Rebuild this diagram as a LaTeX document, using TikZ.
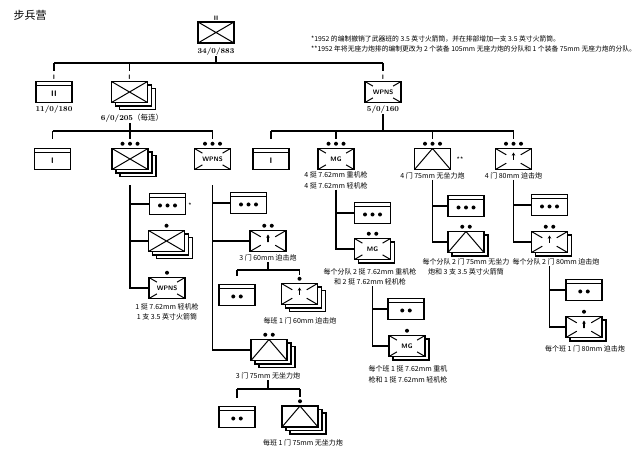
\documentclass[tikz,border=0pt]{standalone}
\usepackage{fontspec}
\newfontfamily\cjk{Noto Sans CJK SC}
\usetikzlibrary{calc,shadows,arrows.meta}

\newcommand\boxfont{\sffamily\bfseries\fontsize{6.5}{7}\selectfont}
\newcommand\barfont{\sffamily\bfseries\fontsize{8}{8}\selectfont}
\newcommand\unitdots[1]{\tikz[baseline=0pt]\foreach \i in {1,...,#1}
  \fill (\i*7.5pt,2pt) circle (2pt);}
\newcommand\dI{\unitdots{1}}
\newcommand\dII{\unitdots{2}}
\newcommand\dIII{\unitdots{3}}
\newcommand\inbox[2]{\raisebox{#1}[0pt][0pt]{#2}}
\newcommand\cornerticks[1]{%
  \foreach \a/\b in {north west/south east,north east/south west,
                     south west/north east,south east/north west}
    \draw[sym] (path picture bounding box.\a) --
      ($(path picture bounding box.\a)!#1!(path picture bounding box.\b)$);}

\tikzset{
  unit/.style={draw, fill=white, line width=1.5pt, minimum width=36pt,
               minimum height=21pt, inner sep=0pt, font=\boxfont},
  sym/.style={line width=1pt},
  link/.style={line width=1.4pt},
  inf/.style={unit, path picture={
      \draw[sym] (path picture bounding box.south west) -- (path picture bounding box.north east)
                 (path picture bounding box.north west) -- (path picture bounding box.south east);}},
  wpns/.style={unit, path picture={\cornerticks{0.22}}},
  mortar/.style={unit, path picture={\cornerticks{0.3}
      \draw[line width=1.3pt, -{Stealth[length=3.2pt,width=3.6pt]}]
         ([yshift=-3pt]path picture bounding box.center)
         -- ([yshift=6.5pt]path picture bounding box.center);
      \fill ([yshift=-3.5pt]path picture bounding box.center) circle (2.5pt);}},
  rr/.style={unit, path picture={
      \draw[sym] (path picture bounding box.south west) -- (path picture bounding box.north)
                 -- (path picture bounding box.south east);}},
  hq/.style={unit, path picture={
      \draw[sym] ([yshift=-4pt]path picture bounding box.north west)
                 -- ([yshift=-4pt]path picture bounding box.north east);}},
  stack2/.style={copy shadow={shadow xshift=4pt, shadow yshift=-3.5pt,
                 draw=black, fill=white, line width=1.1pt}},
  stack3/.style={copy shadow={shadow xshift=8pt, shadow yshift=-7pt,
                 draw=black, fill=white, line width=1.1pt}, stack2},
  size/.style={inner sep=1.8pt},
  echelon/.style={inner sep=0.8pt, font=\sffamily\bfseries\fontsize{6.5}{6.5}\selectfont},
  txt/.style={font=\cjk\fontsize{7}{10.5}\selectfont, inner sep=0.5pt, align=center},
  num/.style={font=\bfseries\fontsize{7.5}{8}\selectfont, inner sep=0.5pt},
  note/.style={font=\cjk\fontsize{6.8}{10}\selectfont, inner sep=0pt, align=left},
}

\begin{document}
\begin{tikzpicture}[x=1pt, y=-1pt]
  \useasboundingbox[fill=white] (0,0) rectangle (640,454);

  % title and notes
  \node[font=\cjk\fontsize{11}{12}\selectfont, inner sep=0pt] (title) at (30,15) {步兵营};
  \node[note, anchor=north west] (notes) at (311,35.5)
    {*1952 的编制撤销了武器班的 3.5 英寸火箭筒，并在排部增加一支 3.5 英寸火箭筒。\\
     **1952 年将无座力炮排的编制更改为 2 个装备 105mm 无座力炮的分队和 1 个装备 75mm 无座力炮的分队。};

  % battalion
  \node[inf, label={[echelon]above:II}] (bn) at (216,32.5) {};
  \node[num] (bn-t) at (216,52) {34/0/883};

  % companies
  \node[hq, label={[echelon]above:I}] (hqco) at (54,92) {\inbox{-4.8pt}{\barfont II}};
  \node[num] (hqco-t) at (54,110) {11/0/180};
  \node[inf, stack3, label={[echelon]above:I}] (rifleco) at (129.5,92) {};
  \node[num] (rifleco-t) at (132,118) {6/0/205{\cjk\mdseries（每连）}};
  \node[wpns, label={[echelon]above:I}] (wpnsco) at (383,92) {WPNS};
  \node[num] (wpnsco-t) at (383,110) {5/0/160};

  \coordinate (bus1) at (216,63);
  \draw[link] (bn-t) -- (bus1);
  \draw[link] (hqco.north |- bus1) -- (wpnsco.north |- bus1);
  \foreach \u in {hqco, rifleco, wpnsco}
    \draw[link] (\u.north |- bus1) -- ([yshift=10pt]\u.north);

  % platoons
  \node[hq] (cohq1) at (52.5,159) {\inbox{-4.8pt}{\barfont I}};
  \node[inf, stack3, label={[size]above:\dIII}] (rifleplt) at (130,159) {};
  \node[wpns, label={[size]above:\dIII}] (wpnsplt) at (212.5,159) {WPNS};
  \node[hq] (cohq2) at (271,159) {\inbox{-4.8pt}{\barfont I}};
  \node[wpns, label={[size]above:\dIII}] (mgplt) at (336,159) {MG};
  \node[rr, label={[size]above:\dIII}] (rrplt) at (432.5,159) {};
  \node[txt] (rrplt-n) at (460,160) {**};
  \node[mortar, label={[size]above:\dIII}] (mtrplt) at (513.5,159) {};
  \node[txt] (mgplt-t) at (336,180.5) {4 挺 7.62mm 重机枪\\4 挺 7.62mm 轻机枪};
  \node[txt] (rrplt-t) at (432.5,176) {4 门 75mm 无坐力炮};
  \node[txt] (mtrplt-t) at (513.5,176) {4 门 80mm 迫击炮};

  \coordinate (bus2) at (130,131);
  \draw[link] (rifleco-t.south -| bus2) -- (bus2);
  \draw[link] (cohq1.north |- bus2) -- (wpnsplt.north |- bus2);
  \foreach \u in {cohq1, rifleplt, wpnsplt}
    \draw[link] (\u.north |- bus2) -- ([yshift=9pt]\u.north);
  \coordinate (bus3) at (383,131);
  \draw[link] (wpnsco-t) -- (bus3);
  \draw[link] (cohq2.north |- bus3) -- (mtrplt.north |- bus3);
  \foreach \u in {cohq2, mgplt, rrplt, mtrplt}
    \draw[link] (\u.north |- bus3) -- ([yshift=9pt]\u.north);

  % rifle platoon
  \node[hq] (rplthq) at (167.5,204) {\inbox{-3.5pt}{\dIII}};
  \node[txt] (rplthq-n) at (190,206) {*};
  \node[inf, stack3, label={[size]above:\dI}] (riflesq) at (166.5,241) {};
  \node[wpns, label={[size]above:\dI}] (wpnssq) at (167,288) {WPNS};
  \node[txt] (wpnssq-t) at (167,312) {1 挺 7.62mm 轻机枪\\1 支 3.5 英寸火箭筒};
  \draw[link] ([yshift=-15pt]rifleplt.south) |- (wpnssq);
  \foreach \u in {rplthq, riflesq}
    \draw[link] (rifleplt.south |- \u) -- (\u);

  % weapons platoon
  \node[hq] (wplthq) at (248.5,203) {\inbox{-3.5pt}{\dIII}};
  \node[mortar, label={[size]above:\dII}] (mtrsec) at (268,241) {};
  \node[txt] (mtrsec-t) at (268,258) {3 门 60mm 迫击炮};
  \node[hq] (mtrsechq) at (237,295) {\inbox{-3.5pt}{\dII}};
  \node[mortar, stack3, label={[size]above:\dI}] (mtrsq) at (299.5,294) {};
  \node[txt] (mtrsq-t) at (300,321) {每班 1 门 60mm 迫击炮};
  \node[rr, stack3, label={[size]above:\dII}] (rrsec) at (269,350) {};
  \node[txt] (rrsec-t) at (268,376) {3 门 75mm 无坐力炮};
  \node[hq] (rrsechq) at (237,417) {\inbox{-3.5pt}{\dII}};
  \node[rr, stack3, label={[size]above:\dI}] (rrsq) at (300,416.5) {};
  \node[txt] (rrsq-t) at (303,443) {每班 1 门 75mm 无坐力炮};

  \draw[link] ([yshift=-15pt]wpnsplt.south) |- (rrsec);
  \foreach \u in {wplthq, mtrsec}
    \draw[link] (wpnsplt.south |- \u) -- (\u);
  \coordinate (bus4) at (268,270);
  \draw[link] (mtrsec-t) -- (bus4);
  \draw[link] (mtrsechq.north |- bus4) -- (mtrsq.north |- bus4);
  \foreach \u in {mtrsechq, mtrsq}
    \draw[link] (\u.north |- bus4) -- ([yshift=8pt]\u.north);
  \coordinate (bus5) at (268,389);
  \draw[link] (rrsec-t) -- (bus5);
  \draw[link] (rrsechq.north |- bus5) -- (rrsq.north |- bus5);
  \foreach \u in {rrsechq, rrsq}
    \draw[link] (\u.north |- bus5) -- ([yshift=8pt]\u.north);

  % machine gun platoon
  \node[hq] (mgplthq) at (372.5,213) {\inbox{-3.5pt}{\dIII}};
  \node[wpns, stack2, label={[size]above:\dII}] (mgsec) at (372.5,249) {MG};
  \node[txt] (mgsec-t) at (370,277) {每个分队 2 挺 7.62mm 重机枪\\和 2 挺 7.62mm 轻机枪};
  \node[hq] (mgsechq) at (406,309) {\inbox{-3.5pt}{\dII}};
  \node[wpns, stack2, label={[size]above:\dI}] (mgsq) at (407,346) {MG};
  \node[txt] (mgsq-t) at (408,374.5) {每个班 1 挺 7.62mm 重机\\枪和 1 挺 7.62mm 轻机枪};
  \draw[link] (mgplt-t.south -| mgplt) |- (mgsec);
  \draw[link] (mgplt.south |- mgplthq) -- (mgplthq);
  \draw[link] (mgsec-t.south -| mgsec) |- (mgsq);
  \draw[link] (mgsec.south |- mgsechq) -- (mgsechq);

  % recoilless rifle platoon
  \node[hq] (rrplthq) at (466,206) {\inbox{-3.5pt}{\dIII}};
  \node[rr, stack2, label={[size]above:\dII}] (rrsec2) at (466,242) {};
  \node[txt] (rrsec2-t) at (466,267) {每个分队 2 门 75mm 无坐力\\炮和 3 支 3.5 英寸火箭筒};
  \draw[link] (rrplt-t.south -| rrplt) |- (rrsec2);
  \draw[link] (rrplt.south |- rrplthq) -- (rrplthq);

  % mortar platoon
  \node[hq] (mtplthq) at (549.5,205) {\inbox{-3.5pt}{\dIII}};
  \node[mortar, stack2, label={[size]above:\dII}] (mtsec2) at (549.5,242) {};
  \node[txt] (mtsec2-t) at (556,262) {每个分队 2 门 80mm 迫击炮};
  \node[hq] (mtsechq) at (584,290) {\inbox{-3.5pt}{\dII}};
  \node[mortar, stack2, label={[size]above:\dI}] (mtsq) at (584,327) {};
  \node[txt] (mtsq-t) at (585,349) {每个班 1 门 80mm 迫击炮};
  \draw[link] (mtrplt-t.south -| mtrplt) |- (mtsec2);
  \draw[link] (mtrplt.south |- mtplthq) -- (mtplthq);
  \draw[link] (mtsec2-t.south -| mtsec2) |- (mtsq);
  \draw[link] (mtsec2.south |- mtsechq) -- (mtsechq);
\end{tikzpicture}
\end{document}
